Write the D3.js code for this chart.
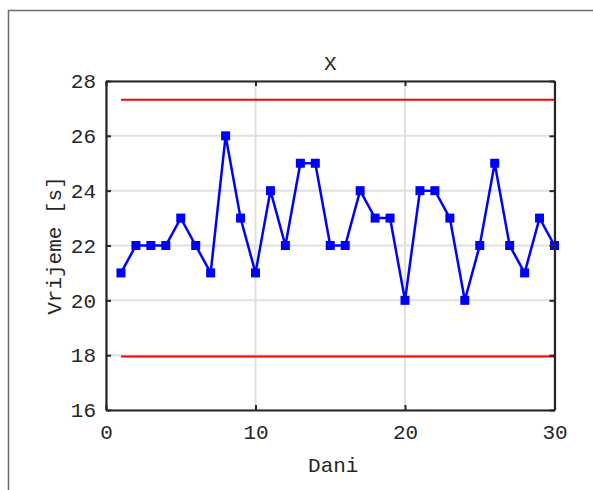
<!DOCTYPE html>
<html>
<head>
<meta charset="utf-8">
<script src="https://cdn.jsdelivr.net/npm/d3@7"></script>
<style>
  html, body { margin: 0; padding: 0; background: #fff; }
  svg { display: block; }
  text { font-family: "Courier New", "Liberation Mono", monospace; fill: #262626; }
</style>
</head>
<body>
<script>
const days = d3.range(1, 31);
const times = [21,22,22,22,23,22,21,26,23,21,24,22,25,25,22,22,24,23,23,20,24,24,23,20,22,25,22,21,23,22];
const ucl = 27.32;
const lcl = 17.95;
const xTicks = [0, 10, 20, 30];
const yTicks = [16, 18, 20, 22, 24, 26, 28];
const titleText = "X";
const xLabel = "Dani";
const yLabel = "Vrijeme [s]";

const W = 593, H = 490;
const svg = d3.select("body").append("svg").attr("width", W).attr("height", H);

// figure border
svg.append("rect").attr("x", 8.5).attr("y", 10.5).attr("width", W).attr("height", H)
  .attr("fill", "none").attr("stroke", "#6b6b6b").attr("stroke-width", 1.5);

const L = 106, R = 554.5, T = 81, B = 410;
const x = d3.scaleLinear().domain([0, 30]).range([L, R]);
const y = d3.scaleLinear().domain([16, 28]).range([B, T]);

// grid
const g = svg.append("g");
g.selectAll(".gx").data(xTicks).enter().append("line")
  .attr("x1", d => x(d)).attr("x2", d => x(d)).attr("y1", T).attr("y2", B)
  .attr("stroke", "#e0e0e0").attr("stroke-width", 2);
g.selectAll(".gy").data(yTicks).enter().append("line")
  .attr("x1", L).attr("x2", R).attr("y1", d => y(d)).attr("y2", d => y(d))
  .attr("stroke", "#e0e0e0").attr("stroke-width", 2);

// control limits
[ucl, lcl].forEach(v => {
  svg.append("line").attr("x1", x(1)).attr("x2", x(30)).attr("y1", y(v)).attr("y2", y(v))
    .attr("stroke", "#ff0000").attr("stroke-width", 2);
});

// data line
const line = d3.line().x((d, i) => x(days[i])).y(d => y(d));
svg.append("path").datum(times).attr("d", line)
  .attr("fill", "none").attr("stroke", "#0000ff").attr("stroke-width", 2.5)
  .attr("stroke-linejoin", "miter");
svg.selectAll(".mk").data(times).enter().append("rect")
  .attr("x", (d, i) => x(days[i]) - 4.5).attr("y", d => y(d) - 4.5)
  .attr("width", 9).attr("height", 9).attr("fill", "#0000ff");

// axes (box with inward ticks)
const tickLen = 5;
const axisColor = "#262626";
const axB = svg.append("g").attr("transform", `translate(0,${B})`)
  .call(d3.axisBottom(x).tickValues(xTicks).tickSizeInner(-tickLen).tickSizeOuter(0).tickPadding(14).tickFormat(d3.format("d")));
const axT = svg.append("g").attr("transform", `translate(0,${T})`)
  .call(d3.axisTop(x).tickValues(xTicks).tickSizeInner(-tickLen).tickSizeOuter(0).tickFormat(""));
const axL = svg.append("g").attr("transform", `translate(${L},0)`)
  .call(d3.axisLeft(y).tickValues(yTicks).tickSizeInner(-tickLen).tickSizeOuter(0).tickPadding(10).tickFormat(d3.format("d")));
const axR = svg.append("g").attr("transform", `translate(${R},0)`)
  .call(d3.axisRight(y).tickValues(yTicks).tickSizeInner(-tickLen).tickSizeOuter(0).tickFormat(""));
[axB, axT, axL, axR].forEach(a => {
  a.select(".domain").attr("stroke", axisColor).attr("stroke-width", 2.2);
  a.selectAll(".tick line").attr("stroke", axisColor).attr("stroke-width", 2);
  a.selectAll(".tick text").attr("fill", "#4a4a4a").style("font-family", "'Liberation Mono', monospace").style("font-size", "21px");
});
axB.selectAll(".tick text").attr("dy", "0.71em");

// titles
svg.append("text").attr("x", (L + R) / 2).attr("y", 70).attr("text-anchor", "middle")
  .style("font-size", "21px").text(titleText);
svg.append("text").attr("x", (L + R) / 2 + 3).attr("y", 472).attr("text-anchor", "middle")
  .style("font-size", "21px").text(xLabel);
svg.append("text").attr("transform", `translate(61,${(T + B) / 2}) rotate(-90)`).attr("text-anchor", "middle")
  .style("font-size", "21px").text(yLabel);
</script>
</body>
</html>
